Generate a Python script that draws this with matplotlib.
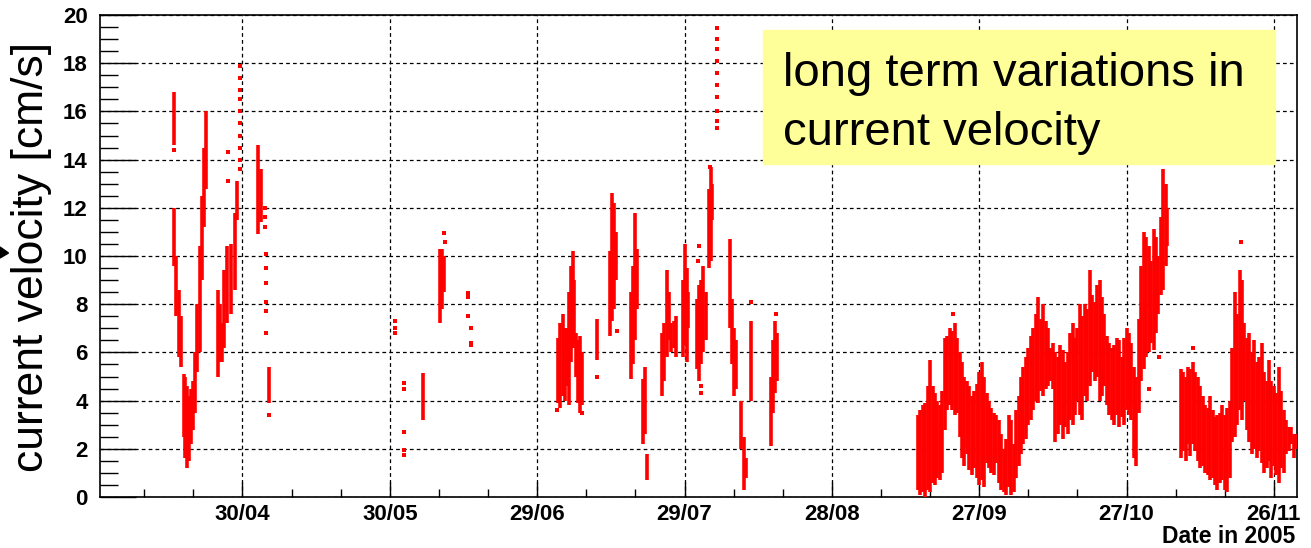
import matplotlib.pyplot as plt
from matplotlib.patches import Rectangle, Polygon

plt.rcParams['font.family'] = ['Liberation Sans', 'DejaVu Sans']

# day of year 2005, lowest and highest velocity [cm/s] seen in each short time slice
seg_day = [106.0, 106.1, 106.5, 107.1, 107.5, 108.0, 108.4, 108.8, 109.2, 109.6, 110.0, 110.4,
           110.8, 111.3, 111.7, 112.2, 112.6,
           115.0, 115.4, 115.8, 116.3, 116.8, 117.7, 118.5, 118.9,
           123.2, 123.8, 125.4,
           156.7, 160.2, 160.7, 161.1,
           184.3, 184.7, 185.2, 185.6, 186.0, 186.4, 186.8, 187.2, 187.6, 188.0, 188.4, 188.8, 189.2,
           192.1, 194.9, 195.3, 195.7, 196.1,
           199.1, 199.5, 200.0, 200.4, 201.6, 202.0, 202.3,
           205.5, 205.9, 206.4, 206.8, 207.3, 207.8, 208.2,
           209.6, 210.0, 210.5, 210.8,
           212.5, 213.0, 213.4, 213.8, 214.4, 215.0, 215.4, 215.7,
           219.3, 219.6, 220.1, 220.5, 221.5, 222.2, 222.6, 223.5,
           227.6, 228.0, 228.5, 228.9,
           257.6, 258.0, 258.5, 259.0, 259.5, 260.0, 260.5, 261.0, 261.5, 262.0, 262.5, 263.0,
           263.5, 264.0, 264.5, 265.0, 265.5, 266.0, 266.5, 267.0, 267.5, 268.0, 268.5, 269.0,
           269.5, 270.0, 270.5, 271.0, 271.5, 272.0, 272.5, 273.0, 273.5, 274.0, 274.5, 275.0,
           275.5, 276.0, 276.5, 277.0, 277.5, 278.0, 278.5, 279.0, 279.5, 280.0, 280.5, 281.0,
           281.5, 282.0, 282.5, 283.0, 283.5, 284.0, 284.5, 285.0, 285.5, 286.0, 286.5, 287.0,
           287.5, 288.0, 288.5, 289.0, 289.5, 290.0, 290.5, 291.0, 291.5, 292.0, 292.5, 293.0,
           293.5, 294.0, 294.5, 295.0, 295.5, 296.0, 296.5, 297.0, 297.5, 298.0, 298.5, 299.0,
           299.5, 300.0, 300.5, 301.0, 301.5, 302.0, 302.5, 303.0, 303.5, 304.0, 304.5, 305.0,
           305.5, 306.0, 306.5, 307.0, 307.5, 308.0, 308.3,
           311.0, 311.5, 312.0, 312.5, 313.0, 313.5, 314.0, 314.5, 315.0, 315.5, 316.0, 316.5,
           317.0, 317.5, 318.0, 318.5, 319.0, 319.5, 320.0, 320.5, 321.0, 321.5, 322.0, 322.5,
           323.0, 323.5, 324.0, 324.5, 325.0, 325.5, 326.0, 326.5, 327.0, 327.5, 328.0, 328.5,
           329.0, 329.5, 330.0, 330.5, 331.0, 331.5, 332.0, 332.5, 333.0, 333.5, 334.0, 334.5]
seg_lo = [14.6, 9.6, 7.5, 5.8, 5.4, 2.5, 1.6, 1.2, 1.5, 2.2, 2.8, 3.5,
          5.2, 6.0, 9.0, 11.2, 12.8,
          5.0, 5.6, 5.6, 6.2, 7.2, 7.6, 8.6, 11.5,
          10.9, 11.4, 3.9,
          3.2, 7.2, 7.8, 8.5,
          3.9, 3.7, 4.2, 4.0, 4.6, 3.8, 5.6, 6.2, 6.4, 5.0, 3.9, 3.5, 3.8,
          5.7, 6.7, 7.3, 7.8, 9.0,
          4.9, 5.5, 6.5, 7.8, 2.2, 2.6, 0.7,
          4.2, 4.8, 5.8, 6.5, 6.0, 6.2, 5.8,
          5.8, 6.3, 5.6, 7.0,
          5.3, 4.8, 5.5, 6.0, 6.5, 9.5, 9.8, 11.5,
          7.0, 5.5, 4.2, 4.5, 2.0, 0.3, 0.8, 4.0,
          2.1, 3.5, 4.3, 4.8,
          0.3, 0.1, 0.2, 0.0, 0.3, 0.2, 0.6, 0.5, 0.8, 0.7, 1.0, 2.8,
          3.6, 3.8, 3.6, 3.4, 3.5, 2.5, 1.6, 1.3, 1.8, 1.1, 0.9, 1.2,
          0.8, 0.5, 0.7, 0.4, 1.4, 1.2, 1.0, 0.9, 1.4, 0.6, 0.3, 0.2,
          0.1, 0.4, 0.1, 0.2, 0.8, 1.3, 1.8, 2.2, 2.4, 3.0, 3.2, 3.6,
          4.0, 3.9, 4.4, 4.2, 4.5, 4.6, 4.8, 4.5, 2.3, 2.6, 3.0, 2.4,
          2.9, 2.6, 3.2, 3.0, 3.4, 4.0, 3.4, 3.2, 4.2, 4.0, 4.6, 5.2,
          4.8, 5.0, 4.0, 4.2, 4.6, 3.8, 3.4, 3.2, 3.0, 3.4, 2.9, 3.3,
          3.0, 3.6, 3.4, 3.2, 1.6, 1.3, 3.5, 4.8, 5.3, 5.8, 6.0, 6.4,
          6.1, 6.8, 7.6, 8.4, 8.6, 9.6, 10.4,
          1.6, 1.9, 1.5, 2.2, 1.7, 2.2, 1.9, 1.5, 1.2, 1.3, 1.0, 0.9,
          0.7, 0.8, 0.5, 0.3, 0.6, 0.7, 0.3, 0.2, 0.8, 2.3, 2.5, 3.0,
          3.6, 3.2, 4.0, 2.8, 2.3, 1.8, 2.0, 1.6, 1.9, 1.4, 1.0, 1.2,
          1.5, 0.8, 1.3, 0.9, 0.6, 1.2, 1.0, 1.8, 1.9, 2.2, 1.6, 2.0]
seg_hi = [16.8, 12.0, 10.0, 8.6, 7.5, 5.1, 5.0, 4.6, 4.2, 4.5, 4.8, 6.0,
          8.0, 10.4, 12.5, 14.5, 16.0,
          8.6, 8.0, 7.2, 9.4, 10.4, 10.5, 11.8, 13.1,
          14.6, 13.6, 5.4,
          5.15, 10.3, 10.3, 10.0,
          6.6, 7.2, 7.6, 7.0, 7.0, 8.5, 9.6, 10.2, 9.0, 6.8, 6.5, 6.7, 6.0,
          7.4, 10.2, 12.6, 12.2, 11.0,
          8.5, 9.6, 11.8, 10.3, 4.9, 5.4, 1.8,
          6.8, 7.2, 9.4, 8.5, 7.2, 7.3, 7.5,
          9.0, 10.5, 9.5, 8.5,
          8.2, 8.8, 9.0, 9.6, 8.5, 12.8, 13.7, 13.0,
          10.7, 8.2, 7.0, 6.5, 4.0, 2.5, 1.6, 7.3,
          5.0, 6.5, 7.3, 6.8,
          3.4, 3.6, 3.8, 3.9, 4.6, 5.7, 4.6, 4.3, 4.0, 3.8, 4.4, 6.6,
          6.7, 7.0, 6.9, 7.2, 6.6, 6.0, 5.6, 5.0, 4.8, 4.6, 4.2, 4.4,
          4.7, 5.2, 5.6, 5.0, 4.3, 4.0, 3.7, 3.5, 3.4, 3.2, 2.6, 2.0,
          2.4, 3.4, 3.2, 2.2, 3.6, 4.2, 5.0, 5.4, 5.8, 6.2, 6.7, 7.0,
          7.6, 8.3, 7.4, 8.0, 7.3, 7.0, 6.2, 6.4, 6.0, 5.8, 6.3, 6.1,
          5.6, 6.0, 6.8, 7.2, 6.6, 7.0, 8.0, 7.5, 8.0, 7.8, 9.4, 8.4,
          8.1, 8.8, 9.0, 8.3, 7.6, 6.7, 6.4, 6.2, 6.3, 6.6, 6.5, 5.8,
          6.6, 7.0, 6.8, 6.4, 5.4, 5.0, 7.4, 9.6, 11.0, 10.8, 10.4, 9.8,
          11.1, 10.8, 10.0, 11.6, 13.6, 13.0, 12.0,
          5.3, 5.2, 5.0, 5.4, 5.3, 5.6, 5.2, 5.0, 4.6, 4.2, 3.8, 3.7,
          4.2, 3.6, 3.3, 3.4, 3.5, 3.8, 3.4, 3.7, 4.0, 6.2, 8.5, 7.6,
          9.4, 9.0, 7.2, 6.6, 6.8, 6.0, 6.5, 5.6, 5.8, 6.4, 5.2, 4.8,
          5.7, 4.8, 4.6, 4.3, 5.4, 4.4, 3.6, 3.2, 2.9, 2.9, 2.6, 2.6]

# isolated readings
dot_day = [106.0, 117.1, 117.1,
           119.6, 119.6, 119.6, 119.6, 119.6, 119.6, 119.6, 119.6, 119.6, 119.6,
           124.6, 124.6, 124.6, 124.8, 124.8, 124.8, 124.8, 124.8, 124.8, 125.4,
           151.0, 151.0, 151.0, 152.8, 152.8, 152.8, 152.8, 152.8,
           161.0, 161.2, 166.0, 166.0, 166.0, 166.5, 166.5, 166.5,
           184.1, 189.2, 192.1, 196.2,
           212.8, 213.0, 213.3, 213.3, 215.2,
           216.6, 216.6, 216.6, 216.6, 216.6, 216.6, 216.6, 216.6, 216.6, 216.6,
           223.5, 228.6,
           264.6, 304.5, 306.6, 313.5, 323.3]
dot_val = [14.4, 14.3, 13.1,
           17.9, 17.4, 16.9, 16.5, 16.0, 15.5, 15.0, 14.5, 14.0, 13.6,
           12.0, 11.6, 11.2, 10.1, 9.5, 8.9, 8.1, 7.7, 6.8, 3.4,
           7.3, 7.0, 6.8, 4.74, 4.49, 2.7, 1.95, 1.74,
           10.95, 10.6, 8.46, 8.3, 7.5, 7.0, 6.4, 6.3,
           3.6, 3.5, 5.0, 6.9,
           9.8, 10.4, 4.3, 4.6, 13.7,
           19.45, 19.0, 18.6, 18.1, 17.6, 17.1, 16.6, 16.0, 15.6, 15.3,
           8.1, 7.6,
           7.6, 4.5, 5.8, 6.2, 10.6]

tick_days = [120, 150, 180, 210, 240, 270, 300, 330]
tick_labels = ['30/04', '30/05', '29/06', '29/07', '28/08', '27/09', '27/10', '26/11']

W, H = 1311, 548
fig = plt.figure(figsize=(W / 100, H / 100), dpi=100)
ax = fig.add_axes([100 / W, 1 - 497 / H, 1197 / W, 482 / H])

ax.vlines(seg_day, seg_lo, seg_hi, color='#ff0000', lw=2.6, zorder=3)
ax.plot(dot_day, dot_val, 's', color='#ff0000', ms=2.4, mew=0, zorder=3)

ax.set_xlim(91.0, 334.7)
ax.set_ylim(0, 20)
ax.set_xticks(tick_days)
ax.set_xticklabels(tick_labels, fontweight='bold', fontsize=16)
ax.set_xticks(range(100, 331, 10), minor=True)
ax.set_yticks(range(0, 21, 2))
ax.set_yticklabels([str(v) for v in range(0, 21, 2)], fontweight='bold', fontsize=16)
ax.set_yticks([v * 0.5 for v in range(41)], minor=True)

ax.tick_params(axis='y', which='major', direction='in', length=26, width=1.0, pad=9)
ax.tick_params(axis='y', which='minor', direction='in', length=13, width=1.0)
ax.tick_params(axis='x', which='major', direction='in', length=11, width=1.0, pad=5)
ax.tick_params(axis='x', which='minor', direction='in', length=6, width=1.0)
ax.grid(True, which='major', color='black', lw=0.9, ls=(0, (3, 2.5)))
for s in ax.spines.values():
    s.set_linewidth(1.2)

fig.text(1295 / W, 1 - 543 / H, 'Date in 2005', ha='right', va='baseline',
         fontsize=16.5, fontweight='bold')
fig.text(32 / W, 1 - 257 / H, 'current velocity [cm/s]', rotation=90,
         ha='center', va='center', fontsize=32)
fig.patches.append(Polygon([(0, 1 - 247 / H), (8.5 / W, 1 - 253 / H), (0, 1 - 258 / H)],
                           closed=True, transform=fig.transFigure, color='black'))

# note box in the upper right
fig.patches.append(Rectangle((763 / W, 1 - 164 / H), 512 / W, 134 / H,
                             transform=fig.transFigure, color='#ffff99', zorder=5))
fig.text(783 / W, 1 - 85.5 / H, 'long term variations in', fontsize=34, va='baseline', zorder=6)
fig.text(783 / W, 1 - 145 / H, 'current velocity', fontsize=34, va='baseline', zorder=6)

fig.savefig('out.png', dpi=100)
